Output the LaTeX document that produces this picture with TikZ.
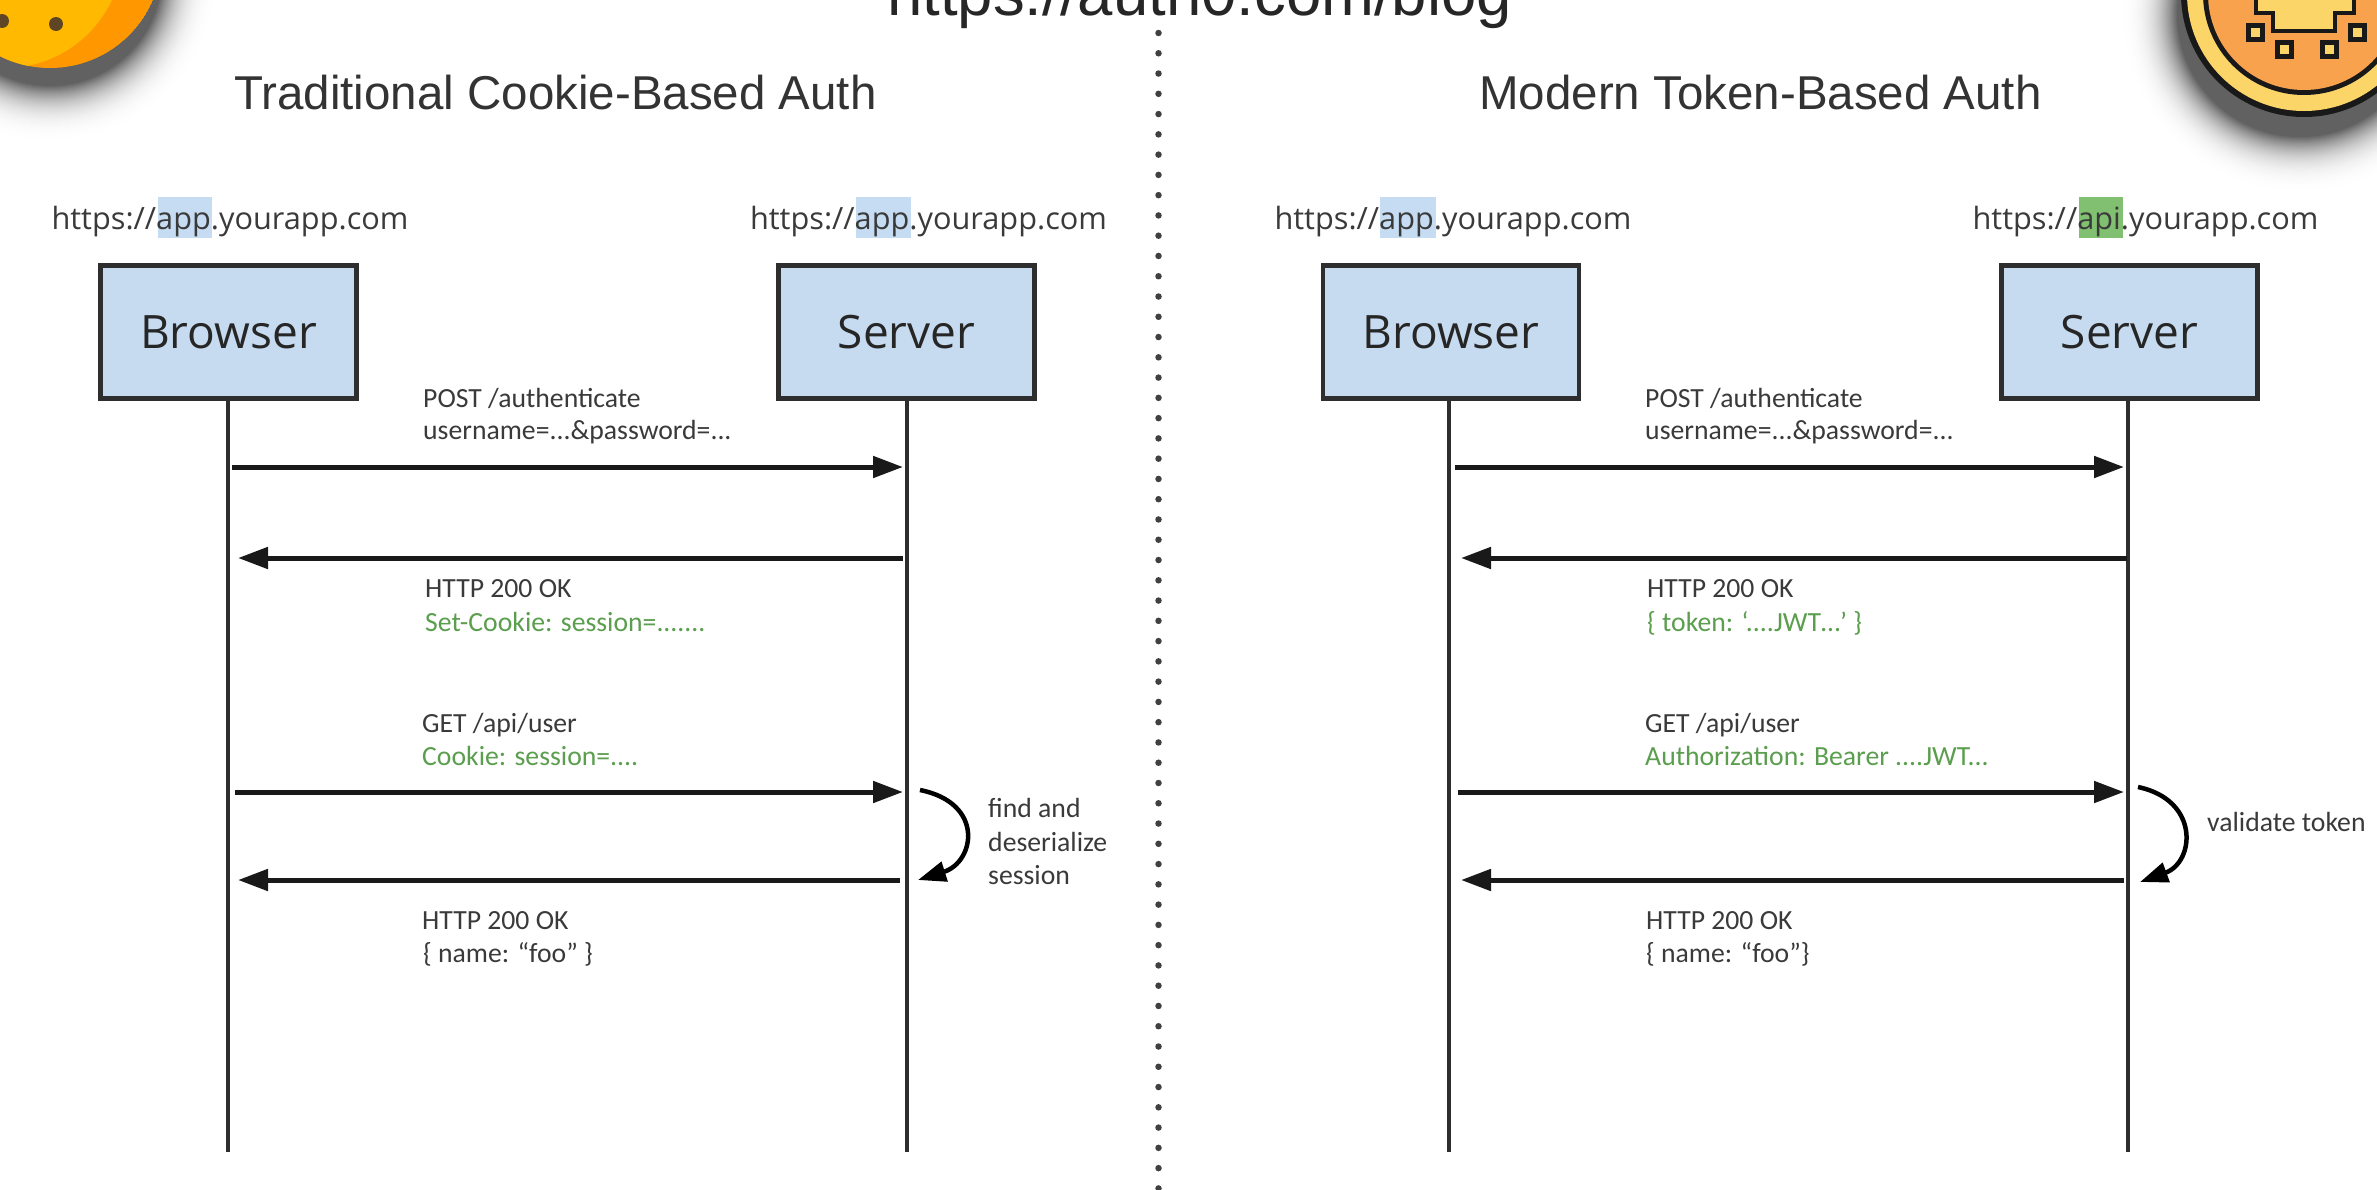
\documentclass[tikz,border=0pt]{standalone}
\usepackage{fontspec}
\setmainfont{Liberation Sans}
\newfontfamily\urlfont{Open Sans}
\newfontfamily\lblfont{Carlito}
\usetikzlibrary{arrows.meta}
\definecolor{boxblue}{HTML}{C6DBF0}
\definecolor{hlblue}{HTML}{C5DCF2}
\definecolor{hlgreen}{HTML}{80C070}
\definecolor{txtgreen}{HTML}{5A9E4E}
\definecolor{txtdark}{HTML}{3A3A3A}
\definecolor{linedark}{HTML}{2E2E2E}
\definecolor{coinyellow}{HTML}{FFB900}
\definecolor{coinorange}{HTML}{FF9800}
\definecolor{coindot}{HTML}{5D4525}
\definecolor{chiporange}{HTML}{F9A24E}
\definecolor{chipyellow}{HTML}{FBD568}
\tikzset{
  actor/.style={draw=linedark,line width=4.5pt,fill=boxblue,minimum width=256pt,minimum height=133pt,inner sep=0pt,font=\urlfont\fontsize{46}{50}\selectfont,text=black!85},
  lifeline/.style={draw=linedark,line width=4pt},
  msg/.style={draw=black!90,line width=5pt,-{Triangle[length=30pt,width=21pt]}},
  loopmsg/.style={draw=black,line width=4.5pt,-{Triangle[length=28pt,width=20pt]}},
  urltext/.style={inner sep=0pt,anchor=base,font=\urlfont\fontsize{30.7}{34}\selectfont,text=txtdark},
  titletext/.style={inner sep=0pt,anchor=base,font=\fontsize{47.5}{52}\selectfont,text=black!80},
  lbl/.style={inner sep=0pt,anchor=base west,font=\lblfont\fontsize{27.7}{32}\selectfont,text=txtdark},
  glbl/.style={lbl,text=txtgreen},
  divider/.style={draw=black!75,line width=6.5pt,line cap=round,dash pattern=on 0pt off 20.27pt},
}
\begin{document}
\begin{tikzpicture}[x=1pt,y=-1pt]
\useasboundingbox (0,0) rectangle (2377,1189);
\clip (0,0) rectangle (2377,1189);
\fill[white] (0,0) rectangle (2377,1189);
% coin shadows
\foreach \i in {0,...,60}{
  \pgfmathsetmacro{\t}{\i/60}
  \pgfmathsetmacro{\p}{62*\t*\t*\t}
  \pgfmathsetmacro{\rr}{112+62*(1-\t)}
  \fill[black!\p] (50,-26) circle[radius=\rr];
  \pgfmathsetmacro{\rs}{123+62*(1-\t)}
  \fill[black!\p] (2300,14) circle[radius=\rs];
}
% left coin
\begin{scope}
  \clip (50,-44) circle[radius=112];
  \fill[coinorange] (50,-44) circle[radius=112];
  \fill[coinyellow] (5,-50) circle[radius=118];
\end{scope}
\fill[coindot] (56,24) circle[radius=7];
\fill[coindot] (2,21) circle[radius=7];
% right coin
\fill[black!90] (2304,-6) circle[radius=123];
\fill[chipyellow] (2304,-6) circle[radius=117];
\fill[black!90] (2304,-6) circle[radius=101];
\fill[chiporange] (2304,-6) circle[radius=96];
\draw[black!90,line width=4.5pt,fill=chipyellow] (2256,-5) -- (2256,13) -- (2273,13) -- (2273,31) -- (2335,31) -- (2335,13) -- (2354,13) -- (2354,-5) -- cycle;
\foreach \cx/\cy in {2255/32,2357/32,2284/49,2329/49}{
  \draw[black!90,line width=5pt,fill=chipyellow] (\cx-7,\cy-7) rectangle (\cx+7,\cy+7);
}
% top url
\node[inner sep=0pt,anchor=base west,font=\fontsize{63.5}{70}\selectfont,text=black!85] (topurl) at (887,15) {https://auth0.com/blog};
% divider
\coordinate (divtop) at (1158.5,33);
\coordinate (divbot) at (1158.5,1189);
\draw[divider] (divtop) -- (divbot);
% titles
\node[titletext] (titleL) at (555.5,109) {Traditional Cookie-Based Auth};
\node[titletext] (titleR) at (1760.5,109) {Modern Token-Based Auth};
% highlights
\fill[hlblue] (158,197) rectangle (212,238);
\fill[hlblue] (856,197) rectangle (911,238);
\fill[hlblue] (1380,197) rectangle (1436,238);
\fill[hlgreen] (2079,197) rectangle (2123,238);
% urls
\node[urltext] (urlA) at (230,229) {https://app.yourapp.com};
\node[urltext] (urlB) at (928.5,229) {https://app.yourapp.com};
\node[urltext] (urlC) at (1453,229) {https://app.yourapp.com};
\node[urltext] (urlD) at (2145.5,229) {https://api.yourapp.com};
% actors
\node[actor] (browserL) at (228.5,332) {Browser};
\node[actor] (serverL) at (906.5,332) {Server};
\node[actor] (browserR) at (1451,332) {Browser};
\node[actor] (serverR) at (2129.5,332) {Server};
% lifelines ends
\coordinate (bLe) at (227.5,1152);
\coordinate (sLe) at (907,1152);
\coordinate (bRe) at (1449,1152);
\coordinate (sRe) at (2128,1152);
\draw[lifeline] (227.5,332 |- browserL.south) -- (bLe);
\draw[lifeline] (907,332 |- serverL.south) -- (sLe);
\draw[lifeline] (1449,332 |- browserR.south) -- (bRe);
\draw[lifeline] (2128,332 |- serverR.south) -- (sRe);
% message end points
\coordinate (a1) at (232,467);  \coordinate (a2) at (903,467);
\coordinate (a3) at (903,558);  \coordinate (a4) at (238,558);
\coordinate (a5) at (235,792);  \coordinate (a6) at (903,792);
\coordinate (a7) at (900,880);  \coordinate (a8) at (238,880);
\coordinate (b1) at (1455,467); \coordinate (b2) at (2124,467);
\coordinate (b3) at (2127,558); \coordinate (b4) at (1461,558);
\coordinate (b5) at (1458,792); \coordinate (b6) at (2124,792);
\coordinate (b7) at (2124,880); \coordinate (b8) at (1461,880);
\draw[msg] (a1) -- (a2);
\draw[msg] (a3) -- (a4);
\draw[msg] (a5) -- (a6);
\draw[msg] (a7) -- (a8);
\draw[msg] (b1) -- (b2);
\draw[msg] (b3) -- (b4);
\draw[msg] (b5) -- (b6);
\draw[msg] (b7) -- (b8);
% self arrows
\coordinate (la) at (920,790); \coordinate (lb) at (918,880);
\coordinate (ra) at (2138,787); \coordinate (rb) at (2140,882);
\draw[loopmsg] (la) .. controls (985,803) and (975,862) .. (lb);
\draw[loopmsg] (ra) .. controls (2200,800) and (2195,862) .. (rb);
% left labels
\node[lbl] (l1) at (423,407) {POST /authenticate};
\node[lbl] (l2) at (423,439) {username=...\&password=...};
\node[lbl] (l3) at (425,597) {HTTP 200 OK};
\node[glbl] (l4) at (425,631) {Set-Cookie: session=.......};
\node[lbl] (l5) at (422,732) {GET /api/user};
\node[glbl] (l6) at (422,765) {Cookie: session=....};
\node[lbl] (l7) at (422,929) {HTTP 200 OK};
\node[lbl] (l8) at (423,962) {\{ name: “foo” \}};
\node[lbl] (l9) at (988,817) {find and};
\node[lbl] (l10) at (988,851) {deserialize};
\node[lbl] (l11) at (988,884) {session};
% right labels
\node[lbl] (r1) at (1645,407) {POST /authenticate};
\node[lbl] (r2) at (1645,439) {username=...\&password=...};
\node[lbl] (r3) at (1647,597) {HTTP 200 OK};
\node[glbl] (r4) at (1647,631) {\{ token: ‘....JWT…’ \}};
\node[lbl] (r5) at (1645,732) {GET /api/user};
\node[glbl] (r6) at (1645,765) {Authorization: Bearer ....JWT...};
\node[lbl] (r7) at (1646,929) {HTTP 200 OK};
\node[lbl] (r8) at (1646,962) {\{ name: “foo”\}};
\node[lbl] (r9) at (2207,831) {validate token};
\end{tikzpicture}
\end{document}
